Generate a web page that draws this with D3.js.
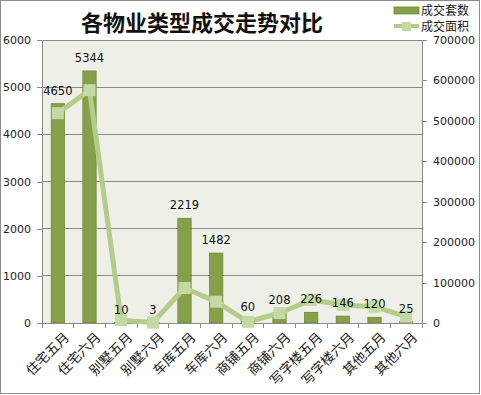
<!DOCTYPE html>
<html><head><meta charset="utf-8">
<script src="https://cdn.jsdelivr.net/npm/d3@7"></script>
<style>body{margin:0;background:#fff}svg{display:block}</style>
</head><body>
<script>
const categories = ["住宅五月","住宅六月","别墅五月","别墅六月","车库五月","车库六月","商铺五月","商铺六月","写字楼五月","写字楼六月","其他五月","其他六月"];
const units = [4650,5344,10,3,2219,1482,60,208,226,146,120,25];
const areas = [519000,576000,7000,1000,86600,52700,3000,24700,57000,44500,40300,15600];
const leftTicks = [0,1000,2000,3000,4000,5000,6000];
const rightTicks = [0,100000,200000,300000,400000,500000,600000,700000];

const W = 481, H = 395;
const m = {l:42, r:59, t:40, b:72};
const svg = d3.select("body").append("svg").attr("width",W).attr("height",H);
svg.append("rect").attr("x",0.5).attr("y",0.5).attr("width",W-2).attr("height",H-2).attr("fill","#fff").attr("stroke","#8c8c8c");

const x = d3.scaleBand().domain(categories).range([m.l, W-m.r]).paddingInner(0.58).paddingOuter(0.29);
const xs = d3.scaleBand().domain(categories).range([m.l, W-m.r]);
const yL = d3.scaleLinear().domain([0,6000]).range([H-m.b, m.t]);
const yR = d3.scaleLinear().domain([0,700000]).range([H-m.b, m.t]);

svg.append("rect").attr("x",m.l).attr("y",m.t).attr("width",W-m.r-m.l).attr("height",H-m.b-m.t).attr("fill","#eef0e7");

// gridlines
svg.append("g").selectAll("line").data(leftTicks.slice(1)).join("line")
  .attr("x1",m.l).attr("x2",W-m.r).attr("y1",d=>yL(d)).attr("y2",d=>yL(d))
  .attr("stroke","#8a8a8a").attr("stroke-width",1).attr("shape-rendering","crispEdges");

const font = "'DejaVu Sans', Verdana, sans-serif";
// left axis
const gl = svg.append("g").attr("transform",`translate(${m.l},0)`)
  .call(d3.axisLeft(yL).tickValues(leftTicks).tickSize(5).tickPadding(6).tickFormat(d3.format("d")));
gl.selectAll("text").attr("font-family",font).attr("font-size",11).attr("fill","#222");
gl.selectAll("line,path").attr("stroke","#8a8a8a").attr("shape-rendering","crispEdges");
gl.select("path").attr("d",`M0,${m.t}V${H-m.b}`);
// right axis
const gr = svg.append("g").attr("transform",`translate(${W-m.r},0)`)
  .call(d3.axisRight(yR).tickValues(rightTicks).tickSize(5).tickPadding(6).tickFormat(d3.format("d")));
gr.selectAll("text").attr("font-family",font).attr("font-size",11).attr("fill","#222");
gr.selectAll("line,path").attr("stroke","#8a8a8a").attr("shape-rendering","crispEdges");
gr.select("path").attr("d",`M0,${m.t}V${H-m.b}`);

// bars
svg.append("g").selectAll("rect").data(units).join("rect")
  .attr("x",(d,i)=>x(categories[i])).attr("width",x.bandwidth())
  .attr("y",d=>yL(d)).attr("height",d=>yL(0)-yL(d))
  .attr("fill","#86a04a").attr("stroke","#6f8a38").attr("stroke-width",0.8);

// x axis
const gx = svg.append("g").attr("transform",`translate(0,${H-m.b})`);
gx.append("line").attr("x1",m.l).attr("x2",W-m.r).attr("stroke","#8a8a8a").attr("shape-rendering","crispEdges");
gx.selectAll("line.t").data(d3.range(categories.length+1)).join("line").attr("class","t")
  .attr("x1",i=>m.l+i*xs.step()).attr("x2",i=>m.l+i*xs.step()).attr("y1",0).attr("y2",5)
  .attr("stroke","#8a8a8a").attr("shape-rendering","crispEdges");
gx.selectAll("text").data(categories).join("text")
  .attr("transform",d=>`translate(${xs(d)+xs.bandwidth()/2+5},8) rotate(-45)`)
  .attr("text-anchor","end").attr("dy","0.75em")
  .attr("font-family","'Noto Sans CJK SC', sans-serif").attr("font-size",13.5).attr("fill","#222")
  .text(d=>d);

// line
const cx = (i)=>xs(categories[i])+xs.bandwidth()/2;
const line = d3.line().x((d,i)=>cx(i)).y(d=>yR(d));
svg.append("path").datum(areas).attr("d",line).attr("fill","none")
  .attr("stroke","#b3cc8a").attr("stroke-width",5).attr("stroke-linejoin","round");
svg.append("g").selectAll("rect").data(areas).join("rect")
  .attr("x",(d,i)=>cx(i)-6).attr("y",d=>yR(d)-6).attr("width",12).attr("height",12)
  .attr("fill","#c5d9a6");

// data labels
svg.append("g").selectAll("text").data(units).join("text")
  .attr("x",(d,i)=>cx(i)).attr("y",d=>yL(d)-9).attr("text-anchor","middle")
  .attr("font-family",font).attr("font-size",11.5).attr("fill","#111").text(d=>d);

// title
svg.append("text").attr("x",202).attr("y",31).attr("text-anchor","middle")
  .attr("font-family","'Noto Sans CJK SC', sans-serif").attr("font-weight","bold").attr("font-size",22).attr("fill","#111")
  .text("各物业类型成交走势对比");

// legend
const lg = svg.append("g");
lg.append("rect").attr("x",394).attr("y",7).attr("width",25).attr("height",7).attr("fill","#86a04a").attr("stroke","#6f8a38").attr("stroke-width",0.8);
lg.append("text").attr("x",421).attr("y",15).attr("font-family","'Noto Sans CJK SC', sans-serif").attr("font-size",12).attr("fill","#222").text("成交套数");
lg.append("line").attr("x1",394).attr("x2",419).attr("y1",26).attr("y2",26).attr("stroke","#b3cc8a").attr("stroke-width",4);
lg.append("rect").attr("x",402).attr("y",22).attr("width",9).attr("height",9).attr("fill","#c5d9a6");
lg.append("text").attr("x",421).attr("y",31).attr("font-family","'Noto Sans CJK SC', sans-serif").attr("font-size",12).attr("fill","#222").text("成交面积");
</script>
</body></html>
